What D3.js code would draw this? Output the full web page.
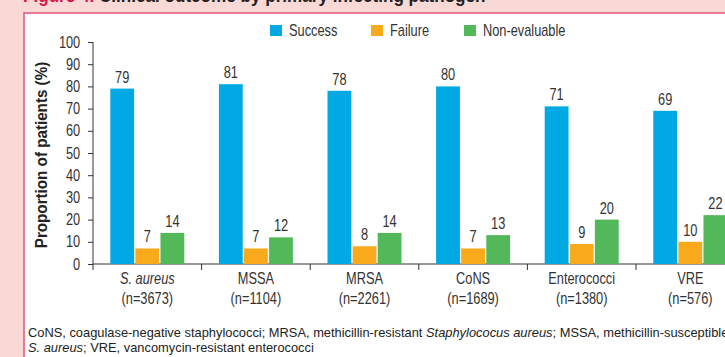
<html>

<head>
    <style>
        body { margin: 0; }
        text { font-family: "Liberation Sans", Arial, sans-serif; }
    </style>
</head>

<body>
    <svg id="chart"></svg>
</body>
<script src="https://cdn.jsdelivr.net/npm/d3@7"></script>
<script>
    let width = 725,
        height = 357;

    // chart data
    let categories = ["S. aureus", "MSSA", "MRSA", "CoNS", "Enterococci", "VRE"]
    let counts = ["(n=3673)", "(n=1104)", "(n=2261)", "(n=1689)", "(n=1380)", "(n=576)"]
    let series = ["Success", "Failure", "Non-evaluable"]
    let success = [79, 81, 78, 80, 71, 69]
    let failure = [7, 7, 8, 7, 9, 10]
    let nonEvaluable = [14, 12, 14, 13, 20, 22]
    let yTicks = [0, 10, 20, 30, 40, 50, 60, 70, 80, 90, 100]
    let colors = ["#00a9e4", "#f9a91c", "#52b85a"]

    let values = [success, failure, nonEvaluable]

    // the original uses a condensed sans, so squeeze Liberation Sans sideways
    let sq = 0.8
    function place(sel, xf, yf, extra, s) {
        return sel.attr("transform", (d, i) =>
            "translate(" + xf(d, i) + "," + yf(d, i) + ")" + (extra || "") + " scale(" + (s || sq) + ",1)")
    }

    let svg = d3.select("#chart").attr("width", width).attr("height", height)

    // page background and framed panel
    svg.append("rect").attr("width", width).attr("height", height).attr("fill", "#f9d9d6")
    svg.append("rect")
        .attr("x", 24).attr("y", 13)
        .attr("width", 800).attr("height", 400)
        .attr("fill", "white")
        .attr("stroke", "#e0557b")
        .attr("stroke-width", 1.5)

    // title, mostly cut off at the top
    let title = place(svg.append("text"), () => 23, () => 2, "", 0.95)
        .attr("font-size", 18).attr("font-weight", "bold")
    title.append("tspan").attr("fill", "#d9174b").text("Figure 4. ")
    title.append("tspan").attr("fill", "#222").text("Clinical outcome by primary infecting pathogen")

    let y = d3.scaleLinear().domain([0, 100]).range([264, 42])
    let x0 = d3.scaleBand().domain(categories).range([93, 93 + 6 * 108.6])
    let x1 = d3.scaleBand().domain(series).range([-37, 37]).paddingInner(0.05)

    // y axis
    let yAxis = svg.append("g")
        .attr("transform", "translate(93,0)")
        .call(d3.axisLeft(y).tickValues(yTicks).tickSize(5))
    yAxis.select(".domain").attr("stroke", "#333").attr("d", "M0,42V270")
    yAxis.selectAll(".tick line").attr("stroke", "#333")
    yAxis.selectAll(".tick text")
        .attr("x", -16).attr("transform", "scale(" + sq + ",1)")
        .attr("font-size", 16).attr("fill", "#333")
        .style("font-family", "'Liberation Sans', Arial, sans-serif")

    place(svg.append("text"), () => 47, () => 155, " rotate(-90)", 0.95)
        .attr("text-anchor", "middle")
        .attr("font-size", 16).attr("font-weight", "bold").attr("fill", "#222")
        .text("Proportion of patients (%)")

    // x axis baseline and group separator ticks
    svg.append("line")
        .attr("x1", 93).attr("x2", width).attr("y1", y(0)).attr("y2", y(0))
        .attr("stroke", "#333")
    svg.append("g").selectAll("line")
        .data(categories.slice(1))
        .enter().append("line")
        .attr("x1", d => x0(d)).attr("x2", d => x0(d))
        .attr("y1", y(0)).attr("y2", y(0) + 6)
        .attr("stroke", "#333")

    // bars
    let groups = svg.append("g").selectAll("g")
        .data(categories)
        .enter().append("g")
        .attr("transform", d => "translate(" + (x0(d) + x0.bandwidth() / 2) + ",0)")

    series.forEach((s, si) => {
        groups.append("rect")
            .attr("x", x1(s))
            .attr("width", x1.bandwidth())
            .attr("y", (d, i) => y(values[si][i]))
            .attr("height", (d, i) => y(0) - y(values[si][i]))
            .attr("fill", colors[si])
        place(groups.append("text"),
            () => x1(s) + x1.bandwidth() / 2,
            (d, i) => y(values[si][i]) - 6)
            .attr("text-anchor", "middle")
            .attr("font-size", 16).attr("fill", "#333")
            .text((d, i) => values[si][i])
    })

    // category labels
    place(groups.append("text"), () => 0, () => 284)
        .attr("text-anchor", "middle")
        .attr("font-size", 16).attr("fill", "#333")
        .attr("font-style", (d, i) => i == 0 ? "italic" : "normal")
        .text(d => d)
    place(groups.append("text"), () => 0, () => 304)
        .attr("text-anchor", "middle")
        .attr("font-size", 16).attr("fill", "#333")
        .text((d, i) => counts[i])

    // legend
    let legendX = [270, 371, 464]
    let legend = svg.append("g").selectAll("g")
        .data(series)
        .enter().append("g")
        .attr("transform", (d, i) => "translate(" + legendX[i] + ",25)")
    legend.append("rect").attr("width", 12).attr("height", 11).attr("fill", (d, i) => colors[i])
    place(legend.append("text"), () => 19, () => 11)
        .attr("font-size", 16).attr("fill", "#333")
        .text(d => d)

    // footnote
    let foot1 = place(svg.append("text"), () => 28, () => 337, "", 0.99).attr("font-size", 13).attr("fill", "#222")
    foot1.append("tspan").text("CoNS, coagulase-negative staphylococci; MRSA, methicillin-resistant ")
    foot1.append("tspan").attr("font-style", "italic").text("Staphylococus aureus")
    foot1.append("tspan").text("; MSSA, methicillin-susceptible")
    let foot2 = place(svg.append("text"), () => 28, () => 352, "", 0.99).attr("font-size", 13).attr("fill", "#222")
    foot2.append("tspan").attr("font-style", "italic").text("S. aureus")
    foot2.append("tspan").text("; VRE, vancomycin-resistant enterococci")
</script>

</html>
